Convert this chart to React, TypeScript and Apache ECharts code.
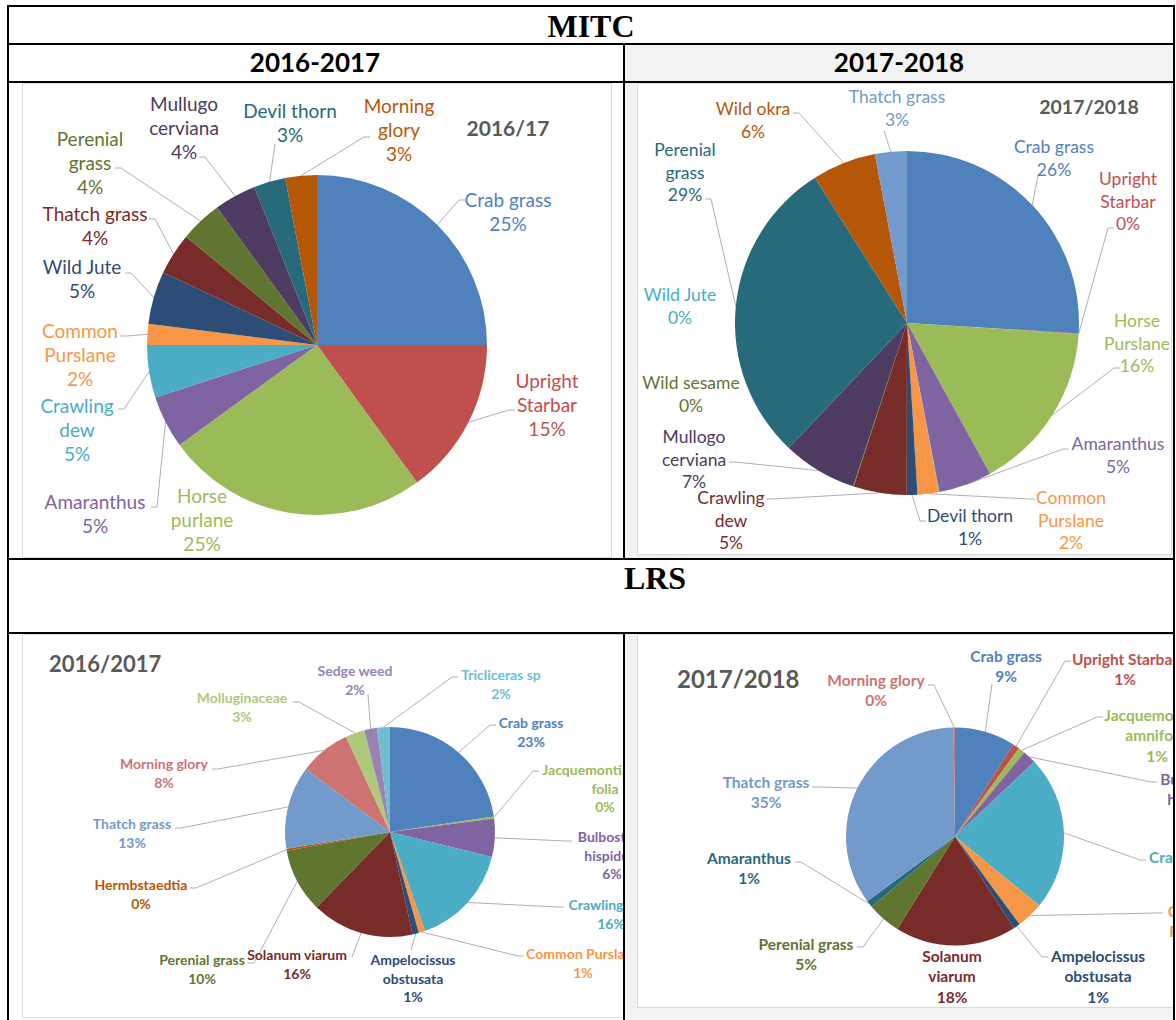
import React, { useEffect, useRef } from "react";
import * as echarts from "echarts";

const FONT = "Lato, Carlito, 'Noto Sans', sans-serif";

// ---------------- DATA ----------------
// MITC 2016/17
const mitc1617Names = ["Crab grass", "Upright\nStarbar", "Horse\npurlane", "Amaranthus", "Crawling\ndew", "Common\nPurslane", "Wild Jute", "Thatch grass", "Perenial\ngrass", "Mullugo\ncerviana", "Devil thorn", "Morning\nglory"];
const mitc1617Values = [25, 15, 25, 5, 5, 2, 5, 4, 4, 4, 3, 3];
const mitc1617Colors = ["#4F81BD", "#C0504D", "#9BBB59", "#8064A2", "#4BACC6", "#F79646", "#2C4D75", "#772C2A", "#5F7530", "#4D3B62", "#276A7C", "#B65708"];

// MITC 2017/18
const mitc1718Names = ["Crab grass", "Upright\nStarbar", "Horse\nPurslane", "Amaranthus", "Wild Jute", "Common\nPurslane", "Devil thorn", "Crawling\ndew", "Wild sesame", "Mullogo\ncerviana", "Perenial\ngrass", "Wild okra", "Thatch grass"];
const mitc1718Values = [26, 0.05, 16, 5, 0.05, 2, 1, 5, 0.05, 7, 29, 6, 3];
const mitc1718Colors = ["#4F81BD", "#C0504D", "#9BBB59", "#8064A2", "#4BACC6", "#F79646", "#2C4D75", "#772C2A", "#5F7530", "#4D3B62", "#276A7C", "#B65708", "#729ACA"];

// LRS 2016/17
const lrs1617Names = ["Crab grass", "Jacquemontia tamni\nfolia", "Bulbostylis\nhispidula", "Crawling dew", "Common Purslane", "Ampelocissus\nobstusata", "Solanum viarum", "Perenial grass", "Hermbstaedtia", "Thatch grass", "Morning glory", "Molluginaceae", "Sedge weed", "Tricliceras sp"];
const lrs1617Values = [23, 0.3, 6, 16, 1, 1, 16, 10, 0.3, 13, 8, 3, 2, 2];
const lrs1617Colors = ["#4F81BD", "#9BBB59", "#8064A2", "#4BACC6", "#F79646", "#2C4D75", "#772C2A", "#5F7530", "#B65708", "#729ACA", "#CD7371", "#AFC97A", "#9983B5", "#6FBDD1"];

// LRS 2017/18
const lrs1718Names = ["Crab grass", "Upright Starbar", "Jacquemontia t\namnifolia", "Bulbostylis\nhispidula", "Crawling dew", "Common\nPurslane", "Ampelocissus\nobstusata", "Solanum\nviarum", "Perenial grass", "Amaranthus", "Thatch grass", "Morning glory"];
const lrs1718Values = [9, 1, 1, 2, 23, 4, 1, 18, 5, 1, 35, 0.2];
const lrs1718Colors = ["#4F81BD", "#C0504D", "#9BBB59", "#8064A2", "#4BACC6", "#F79646", "#2C4D75", "#772C2A", "#5F7530", "#276A7C", "#729ACA", "#CD7371"];

// ---------------- LAYOUT (page px) ----------------
// [labelX, labelY, attachX, attachY, side]  side: l = line enters label from left, r = from right, s = straight, n = no line
type Side = "l" | "r" | "s" | "n";
type LabelPos = [number, number, number, number, Side];

const mitc1617LabelPos: LabelPos[] = [
  [508, 211, 465, 200, "l"],
  [547, 404, 515, 410, "l"],
  [202, 519, 0, 0, "n"],
  [95, 513, 151, 507, "r"],
  [77, 429, 118, 409, "r"],
  [80, 354, 120, 336, "r"],
  [82, 278, 125, 273, "r"],
  [95, 225, 149, 219, "r"],
  [90, 162, 115, 168, "r"],
  [184, 127, 199, 157, "r"],
  [290, 122, 275, 144, "s"],
  [399, 129, 370, 137, "l"],
];

const mitc1718LabelPos: LabelPos[] = [
  [1054, 158, 1038, 176, "s"],
  [1128, 201, 1114, 228, "l"],
  [1137, 343, 1120, 368, "l"],
  [1118, 455, 1069, 449, "l"],
  [680, 306, 0, 0, "n"],
  [1071, 520, 1035, 499, "l"],
  [970, 527, 926, 521, "l"],
  [731, 520, 767, 499, "r"],
  [691, 394, 0, 0, "n"],
  [694, 459, 729, 462, "r"],
  [685, 172, 705, 199, "r"],
  [753, 120, 793, 113, "r"],
  [897, 108, 884, 131, "s"],
];

const lrs1617LabelPos: LabelPos[] = [
  [531, 732, 496, 725, "l"],
  [605, 788, 539, 771, "l"],
  [612, 855, 572, 841, "l"],
  [611, 914, 564, 907, "l"],
  [583, 963, 524, 956, "l"],
  [413, 978, 411, 950, "s"],
  [297, 964, 352, 957, "s"],
  [202, 969, 248, 963, "r"],
  [141, 894, 190, 888, "r"],
  [132, 833, 175, 828, "r"],
  [164, 773, 212, 769, "r"],
  [242, 707, 293, 702, "r"],
  [355, 680, 368, 694, "s"],
  [501, 684, 458, 677, "l"],
];

const lrs1718LabelPos: LabelPos[] = [
  [1006, 666, 992, 684, "s"],
  [1125, 669, 1071, 661, "l"],
  [1157, 735, 1103, 717, "l"],
  [1198, 799, 1157, 782, "l"],
  [1196, 867, 1146, 860, "l"],
  [1199, 931, 1163, 913, "l"],
  [1098, 976, 1048, 957, "l"],
  [952, 976, 0, 0, "n"],
  [806, 954, 857, 947, "r"],
  [749, 868, 795, 862, "r"],
  [766, 792, 812, 787, "r"],
  [876, 690, 928, 685, "r"],
];

interface PieSpec {
  frame: { left: number; top: number; width: number; height: number };
  gray: boolean;
  box: [number, number, number, number];
  center: [number, number];
  radius: number;
  names: string[];
  values: number[];
  colors: string[];
  labels: LabelPos[];
  fontSize: number;
  fontWeight: string;
  lineHeight: number;
  title: string;
  titleX: number;
  titleY: number;
  titleSize: number;
  titleAlign: "center" | "left";
}

const specs: PieSpec[] = [
  {
    frame: { left: 9, top: 83, width: 614, height: 475 },
    gray: false,
    box: [22, 83, 589, 474],
    center: [317, 345],
    radius: 170,
    names: mitc1617Names,
    values: mitc1617Values,
    colors: mitc1617Colors,
    labels: mitc1617LabelPos,
    fontSize: 19,
    fontWeight: "normal",
    lineHeight: 24,
    title: "2016/17",
    titleX: 508,
    titleY: 127,
    titleSize: 21,
    titleAlign: "center",
  },
  {
    frame: { left: 625, top: 83, width: 548, height: 475 },
    gray: true,
    box: [637, 83, 534, 471],
    center: [907, 323],
    radius: 172,
    names: mitc1718Names,
    values: mitc1718Values,
    colors: mitc1718Colors,
    labels: mitc1718LabelPos,
    fontSize: 17.5,
    fontWeight: "normal",
    lineHeight: 22.5,
    title: "2017/2018",
    titleX: 1089,
    titleY: 106,
    titleSize: 19.5,
    titleAlign: "center",
  },
  {
    frame: { left: 9, top: 634, width: 614, height: 386 },
    gray: false,
    box: [22, 634, 700, 383],
    center: [390, 832],
    radius: 105,
    names: lrs1617Names,
    values: lrs1617Values,
    colors: lrs1617Colors,
    labels: lrs1617LabelPos,
    fontSize: 14,
    fontWeight: "bold",
    lineHeight: 18.5,
    title: "2016/2017",
    titleX: 49,
    titleY: 663,
    titleSize: 22,
    titleAlign: "left",
  },
  {
    frame: { left: 625, top: 634, width: 548, height: 386 },
    gray: true,
    box: [637, 634, 600, 373],
    center: [955, 836.5],
    radius: 109,
    names: lrs1718Names,
    values: lrs1718Values,
    colors: lrs1718Colors,
    labels: lrs1718LabelPos,
    fontSize: 15.5,
    fontWeight: "bold",
    lineHeight: 20.5,
    title: "2017/2018",
    titleX: 677,
    titleY: 678,
    titleSize: 24,
    titleAlign: "left",
  },
];

function buildOption(spec: PieSpec): any {
  const ox = spec.frame.left;
  const oy = spec.frame.top;
  const cx = spec.center[0] - ox;
  const cy = spec.center[1] - oy;
  const r = spec.radius;
  const total = spec.values.reduce((a, b) => a + b, 0);
  let acc = 0;
  const mids = spec.values.map((v) => {
    const m = ((acc + v / 2) / total) * Math.PI * 2;
    acc += v;
    return m;
  });

  const graphic: any[] = [];
  if (spec.gray) {
    graphic.push({
      type: "rect",
      silent: true,
      z: 0,
      shape: { x: 0, y: 0, width: spec.frame.width, height: spec.frame.height },
      style: { fill: "#f2f2f2" },
    });
  }
  graphic.push({
    type: "rect",
    silent: true,
    z: 1,
    shape: { x: spec.box[0] - ox + 0.5, y: spec.box[1] - oy + 0.5, width: spec.box[2], height: spec.box[3] },
    style: { fill: "#ffffff", stroke: "#d9d9d9", lineWidth: 1 },
  });
  graphic.push({
    type: "text",
    silent: true,
    z: 3,
    x: spec.titleX - ox,
    y: spec.titleY - oy,
    style: {
      text: spec.title,
      fill: "#595959",
      fontFamily: FONT,
      fontSize: spec.titleSize,
      fontWeight: "bold",
      align: spec.titleAlign,
      verticalAlign: "middle",
    },
  });

  const data = spec.names.map((name, i) => ({
    name,
    value: spec.values[i],
    itemStyle: { color: spec.colors[i] },
    label: { color: spec.colors[i] },
    labelLine: { show: spec.labels[i][4] !== "n" },
  }));

  return {
    animation: false,
    graphic,
    series: [
      {
        type: "pie",
        z: 2,
        silent: true,
        center: [cx, cy],
        radius: r,
        startAngle: 90,
        clockwise: true,
        avoidLabelOverlap: false,
        minShowLabelAngle: 0,
        itemStyle: { borderWidth: 0 },
        emphasis: { disabled: true },
        label: {
          show: true,
          position: "outside",
          formatter: (p: any) => `${p.name}\n${Math.round(p.value)}%`,
          fontFamily: FONT,
          fontSize: spec.fontSize,
          fontWeight: spec.fontWeight,
          lineHeight: spec.lineHeight,
          align: "center",
        },
        labelLine: {
          show: true,
          length: 8,
          length2: 8,
          lineStyle: { color: "#b0b0b0", width: 1 },
        },
        labelLayout: (params: any) => {
          const i = params.dataIndex;
          const p = spec.labels[i];
          const res: any = {
            x: p[0] - ox,
            y: p[1] - oy,
            align: "center",
            verticalAlign: "middle",
          };
          if (p[4] !== "n") {
            const m = mids[i];
            const ex = cx + r * Math.sin(m);
            const ey = cy - r * Math.cos(m);
            const ax = p[2] - ox;
            const ay = p[3] - oy;
            let p1: number[];
            if (p[4] === "l") p1 = [ax - 6, ay];
            else if (p[4] === "r") p1 = [ax + 6, ay];
            else p1 = [ax, ay];
            res.labelLinePoints = [[ex, ey], p1, [ax, ay]];
          }
          return res;
        },
        data,
      },
    ],
  };
}

function PieCell({ spec }: { spec: PieSpec }) {
  const ref = useRef<HTMLDivElement>(null);
  useEffect(() => {
    if (!ref.current) return;
    const chart = echarts.init(ref.current, undefined, { renderer: "svg" });
    chart.setOption(buildOption(spec));
    return () => chart.dispose();
  }, [spec]);
  return (
    <div
      ref={ref}
      style={{
        position: "absolute",
        left: spec.frame.left,
        top: spec.frame.top,
        width: spec.frame.width,
        height: spec.frame.height,
        overflow: "hidden",
      }}
    />
  );
}

// table rules: [left, top, width, height]
const rules: [number, number, number, number][] = [
  [7, 5, 1168, 2],
  [7, 43, 1168, 2],
  [7, 81, 1168, 2],
  [7, 558, 1168, 2],
  [7, 632, 1168, 2],
  [7, 5, 2, 1015],
  [1173, 5, 2, 1015],
  [623, 43, 2, 517],
  [623, 632, 2, 388],
];

function CenterText({ text, cx, cy, font, size, w }: { text: string; cx: number; cy: number; font: string; size: number; w: number }) {
  return (
    <div
      style={{
        position: "absolute",
        left: cx - w / 2,
        top: cy - size * 0.6,
        width: w,
        height: size * 1.2,
        lineHeight: `${size * 1.2}px`,
        textAlign: "center",
        fontFamily: font,
        fontWeight: "bold",
        fontSize: size,
        color: "#000",
        whiteSpace: "nowrap",
        zIndex: 4,
      }}
    >
      {text}
    </div>
  );
}

export default function App() {
  useEffect(() => {
    document.body.style.margin = "0";
  }, []);
  return (
    <div style={{ position: "relative", width: 1176, height: 1020, background: "#fff", overflow: "hidden" }}>
      <style>{`body{margin:0}`}</style>
      <div style={{ position: "absolute", left: 625, top: 45, width: 548, height: 36, background: "#f2f2f2" }} />
      {specs.map((s, i) => (
        <PieCell key={i} spec={s} />
      ))}
      {rules.map((r, i) => (
        <div key={i} style={{ position: "absolute", left: r[0], top: r[1], width: r[2], height: r[3], background: "#000", zIndex: 5 }} />
      ))}
      <CenterText text="MITC" cx={591} cy={26} font="'Liberation Serif', 'Times New Roman', serif" size={32} w={300} />
      <CenterText text="2016-2017" cx={315} cy={63} font={FONT} size={26} w={300} />
      <CenterText text="2017-2018" cx={899} cy={63} font={FONT} size={26} w={300} />
      <CenterText text="LRS" cx={655} cy={578} font="'Liberation Serif', 'Times New Roman', serif" size={32} w={200} />
    </div>
  );
}
